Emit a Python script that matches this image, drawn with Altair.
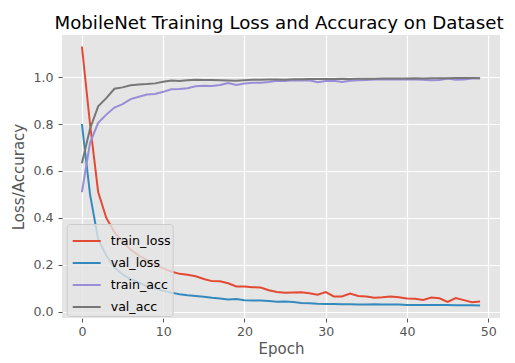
import altair as alt
import pandas as pd

epochs = list(range(50))
series_names = ["train_loss", "val_loss", "train_acc", "val_acc"]
series_colors = ["#E24A33", "#348ABD", "#988ED5", "#777777"]

train_loss = [1.13, 0.80, 0.51, 0.40, 0.34, 0.30, 0.265, 0.24, 0.22, 0.20,
              0.185, 0.172, 0.162, 0.158, 0.152, 0.140, 0.131, 0.130, 0.122, 0.108,
              0.108, 0.105, 0.104, 0.092, 0.085, 0.082, 0.083, 0.084, 0.079, 0.073,
              0.084, 0.066, 0.066, 0.078, 0.068, 0.066, 0.060, 0.062, 0.066, 0.062,
              0.057, 0.056, 0.051, 0.061, 0.058, 0.043, 0.059, 0.050, 0.041, 0.044]
val_loss = [0.80, 0.50, 0.31, 0.24, 0.19, 0.16, 0.14, 0.125, 0.11, 0.10,
            0.09, 0.082, 0.075, 0.071, 0.068, 0.064, 0.060, 0.057, 0.053, 0.055,
            0.050, 0.049, 0.048, 0.046, 0.043, 0.044, 0.042, 0.038, 0.037, 0.035,
            0.034, 0.034, 0.033, 0.033, 0.032, 0.032, 0.033, 0.032, 0.032, 0.031,
            0.029, 0.029, 0.029, 0.029, 0.029, 0.029, 0.028, 0.028, 0.028, 0.027]
train_acc = [0.51, 0.72, 0.805, 0.84, 0.87, 0.885, 0.906, 0.916, 0.926, 0.928,
             0.937, 0.948, 0.949, 0.952, 0.961, 0.963, 0.962, 0.966, 0.975, 0.966,
             0.972, 0.976, 0.976, 0.979, 0.984, 0.983, 0.986, 0.985, 0.986, 0.978,
             0.983, 0.984, 0.979, 0.984, 0.986, 0.987, 0.990, 0.989, 0.990, 0.989,
             0.990, 0.989, 0.988, 0.986, 0.987, 0.994, 0.988, 0.990, 0.994, 0.995]
val_acc = [0.633, 0.78, 0.875, 0.91, 0.95, 0.956, 0.965, 0.968, 0.970, 0.973,
           0.980, 0.985, 0.983, 0.986, 0.988, 0.987, 0.987, 0.986, 0.985, 0.984,
           0.986, 0.988, 0.988, 0.989, 0.990, 0.988, 0.991, 0.991, 0.992, 0.992,
           0.992, 0.992, 0.993, 0.992, 0.993, 0.993, 0.993, 0.994, 0.994, 0.994,
           0.994, 0.995, 0.994, 0.995, 0.995, 0.995, 0.996, 0.996, 0.996, 0.995]

x_ticks = [0, 10, 20, 30, 40, 50]
y_ticks = [0.0, 0.2, 0.4, 0.6, 0.8, 1.0]

rows = []
for name, vals in zip(series_names, [train_loss, val_loss, train_acc, val_acc]):
    for e, v in zip(epochs, vals):
        rows.append({"epoch": e, "value": v, "series": name, "order": series_names.index(name)})
df = pd.DataFrame(rows)

FONT = "DejaVu Sans"

chart = alt.Chart(df).mark_line(strokeWidth=2, clip=True).encode(
    x=alt.X("epoch:Q",
            scale=alt.Scale(domain=[-2.45, 51.45], nice=False, zero=False),
            axis=alt.Axis(values=x_ticks, title="Epoch", format="d",
                          labelPadding=3, titlePadding=4)),
    y=alt.Y("value:Q",
            scale=alt.Scale(domain=[-0.026, 1.179], nice=False, zero=False),
            axis=alt.Axis(values=y_ticks, title="Loss/Accuracy", format=".1f",
                          labelPadding=5, titlePadding=6)),
    color=alt.Color("series:N",
                    scale=alt.Scale(domain=series_names, range=series_colors),
                    sort=series_names,
                    legend=alt.Legend(title=None, orient="none", legendX=4.7, legendY=189,
                                      symbolType="stroke", symbolSize=784,
                                      symbolStrokeWidth=2, labelFontSize=12.6,
                                      labelFont=FONT, labelColor="#000000",
                                      labelOffset=9, rowPadding=-2, padding=2,
                                      symbolOffset=3,
                                      fillColor="rgba(229,229,229,0.8)",
                                      strokeColor="#CCCCCC", cornerRadius=3)),
    order=alt.Order("order:Q"),
).properties(
    width=438,
    height=283,
    title=alt.TitleParams("MobileNet Training Loss and Accuracy on Dataset",
                          fontSize=18.2, font=FONT, fontWeight="normal",
                          color="#000000", anchor="middle", baseline="bottom",
                          offset=6, dy=22, dx=-2),
    autosize=alt.AutoSizeParams(type="none"),
    padding={"left": 54, "top": 27, "right": 7, "bottom": 40},
).configure_view(
    fill="#E5E5E5", stroke=None
).configure_axis(
    grid=True, gridColor="#FFFFFF", gridWidth=1.2, domain=False,
    tickColor="#555555", tickSize=4, tickWidth=1,
    labelFont=FONT, labelFontSize=12.6, labelColor="#555555",
    titleFont=FONT, titleFontSize=15, titleColor="#555555", titleFontWeight="normal",
)

chart.save("out.html", embed_options={"renderer": "svg", "actions": False})
